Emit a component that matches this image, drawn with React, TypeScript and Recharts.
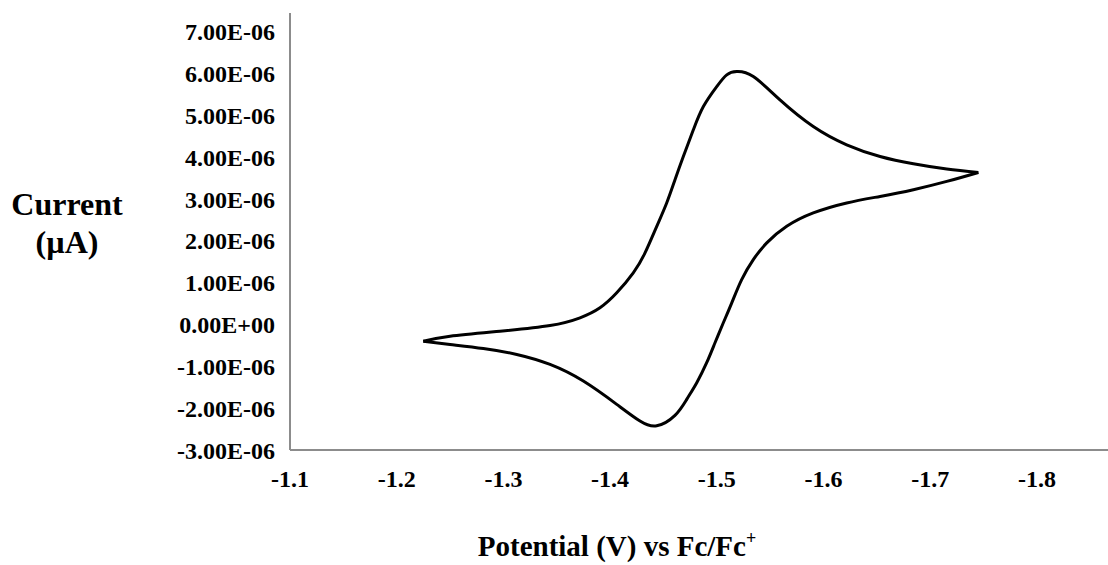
import { LineChart, Line, XAxis, YAxis } from 'recharts'

// cyclic voltammogram, potential in V vs Fc/Fc+, current in µA
const forwardPotential = [
  -1.2249, -1.25, -1.2968, -1.3437, -1.3718, -1.3905, -1.4062, -1.4217, -1.4327, -1.4437, -1.453, -1.4608,
  -1.4686, -1.478, -1.4874, -1.4999, -1.5093, -1.5187, -1.5342, -1.5592, -1.5904, -1.6217, -1.653, -1.6842,
  -1.7155, -1.7451,
]
const forwardCurrent = [
  -0.399, -0.279, -0.16, -0.024, 0.16, 0.399, 0.757, 1.234, 1.711, 2.346, 2.905, 3.461,
  4.017, 4.654, 5.21, 5.687, 5.967, 6.045, 5.926, 5.37, 4.733, 4.296, 4.017, 3.842,
  3.716, 3.635,
]
const reversePotential = [
  -1.7451, -1.7155, -1.6842, -1.653, -1.6217, -1.5904, -1.5655, -1.5468, -1.5342, -1.5233, -1.514, -1.5061,
  -1.4983, -1.4905, -1.4812, -1.4718, -1.4608, -1.4437, -1.428, -1.4062, -1.3749, -1.3437, -1.3125, -1.2812,
  -1.25, -1.2249,
]
const reverseCurrent = [
  3.635, 3.42, 3.222, 3.062, 2.905, 2.666, 2.346, 1.95, 1.551, 1.074, 0.518, 0.041,
  -0.437, -0.914, -1.391, -1.79, -2.172, -2.422, -2.308, -1.909, -1.353, -0.955, -0.716, -0.573,
  -0.477, -0.399,
]

const xTicks = [-1.1, -1.2, -1.3, -1.4, -1.5, -1.6, -1.7, -1.8]
const yTicks = [-3, -2, -1, 0, 1, 2, 3, 4, 5, 6, 7]

const forward = forwardPotential.map((v, k) => ({ v, i: forwardCurrent[k] }))
const reverse = reversePotential.map((v, k) => ({ v, i: reverseCurrent[k] }))

const font = '"Liberation Serif", "Times New Roman", serif'
const tickStyle = { fill: '#000', fontSize: 24, fontWeight: 700, fontFamily: font }
const axisStroke = { stroke: '#8c8c8c', strokeWidth: 2 }

// labels read as amps, e.g. 6.00E-06
const fmtCurrent = (v: number) => (v === 0 ? '0.00E+00' : `${v.toFixed(2)}E-06`)

const YTitle = () => (
  <text fontFamily={font} fontWeight={700} fontSize={32} fill="#000" textAnchor="middle">
    <tspan x={67} y={215}>Current</tspan>
    <tspan x={67} y={253}>(µA)</tspan>
  </text>
)

const XTitle = () => (
  <text x={617} y={556} fontFamily={font} fontWeight={700} fontSize={29} fill="#000" textAnchor="middle">
    Potential (V) vs Fc/Fc
    <tspan fontSize={18} dy={-12}>+</tspan>
  </text>
)

export default function App() {
  return (
    <div style={{ width: 1108, height: 565, background: '#fff' }}>
      <style>{'body{margin:0}'}</style>
      <LineChart width={1108} height={565} margin={{ top: 13, right: 0, bottom: 0, left: 0 }}>
        <XAxis
          type="number"
          dataKey="v"
          domain={[-1.8666, -1.1]}
          reversed
          allowDataOverflow
          ticks={xTicks}
          tickFormatter={(v) => v.toFixed(1)}
          tick={tickStyle}
          tickLine={false}
          tickSize={0}
          tickMargin={20}
          axisLine={axisStroke}
          height={115}
          label={<XTitle />}
        />
        <YAxis
          type="number"
          dataKey="i"
          domain={[-3, 7.446]}
          allowDataOverflow
          ticks={yTicks}
          tickFormatter={fmtCurrent}
          tick={tickStyle}
          tickLine={false}
          tickSize={0}
          tickMargin={15}
          axisLine={axisStroke}
          width={290}
          label={<YTitle />}
        />
        <Line
          data={forward}
          dataKey="i"
          type="natural"
          stroke="#000"
          strokeWidth={3}
          dot={false}
          isAnimationActive={false}
        />
        <Line
          data={reverse}
          dataKey="i"
          type="natural"
          stroke="#000"
          strokeWidth={3}
          dot={false}
          isAnimationActive={false}
        />
      </LineChart>
    </div>
  )
}
